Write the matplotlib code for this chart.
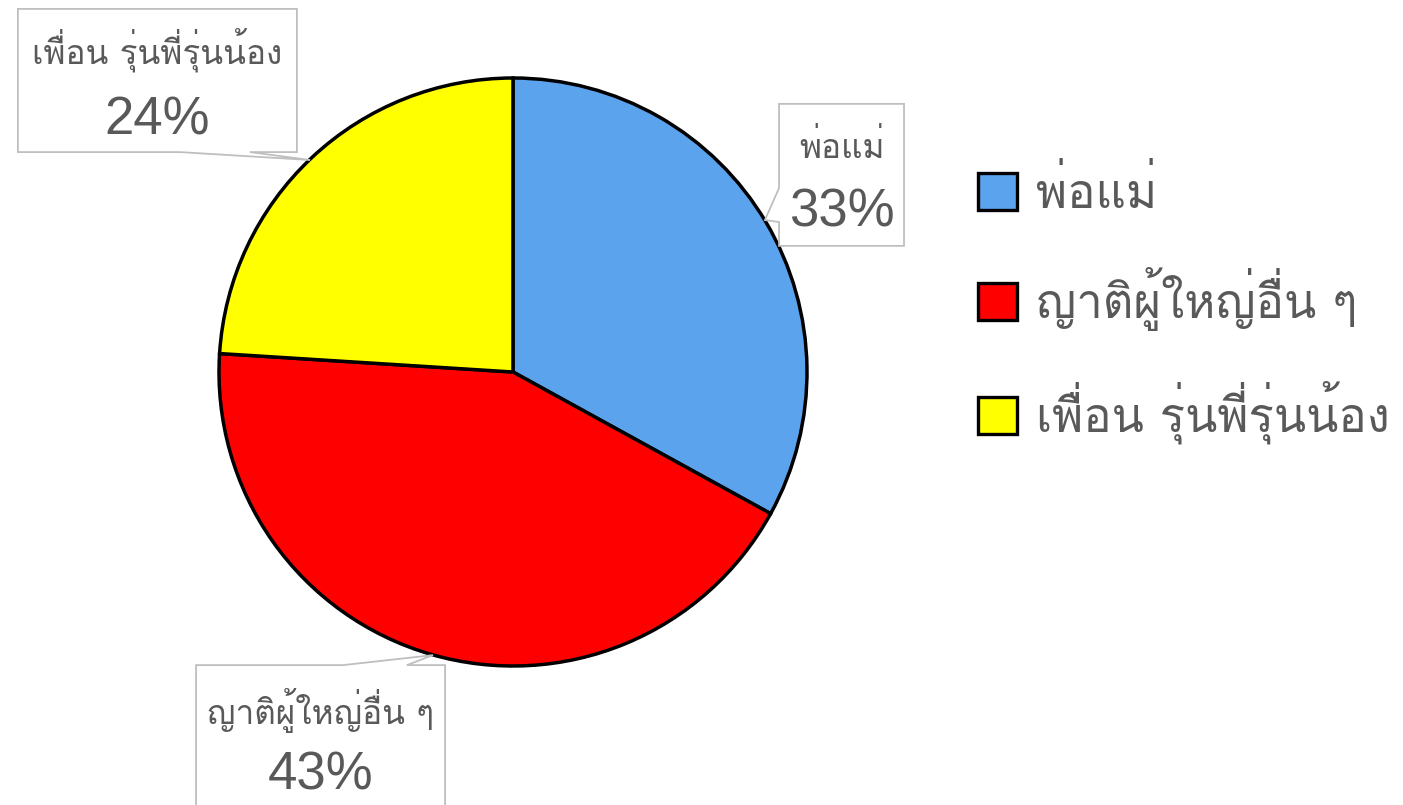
import matplotlib
matplotlib.use('Agg')
import matplotlib.pyplot as plt
from matplotlib.patches import Polygon, Patch

# data
categories = ['พ่อแม่', 'ญาติผู้ใหญ่อื่น ๆ', 'เพื่อน รุ่นพี่รุ่นน้อง']
shares = [33, 43, 24]
colors = ['#5BA3EC', '#FF0000', '#FFFF00']

THAI = ['Loma', 'FreeSerif', 'DejaVu Sans']
NUM = ['Liberation Sans', 'DejaVu Sans']
GREY = '#595959'
BOX = '#BFBFBF'

fig = plt.figure(figsize=(14.03, 8.05), dpi=100)
ax = fig.add_axes([0, 0, 1, 1])
# pie centre at about (513, 372) px, radius about 294 px
R = 294.0
xlim = (-513 / R, (1403 - 513) / R)
ylim = ((372 - 805) / R, 372 / R)

ax.pie(shares, colors=colors, startangle=90, counterclock=False,
       radius=1.0, center=(0, 0),
       wedgeprops=dict(edgecolor='black', linewidth=2.5))
ax.set_xlim(*xlim)
ax.set_ylim(*ylim)
ax.set_aspect('equal')
ax.axis('off')


# callout box with a small pointer towards the slice
def callout(x0, x1, y0, y1, edge, b0, b1, tip):
    if edge == 'bottom':
        pts = [(x0, y1), (x1, y1), (x1, y0), (b1, y0), tip, (b0, y0), (x0, y0)]
    elif edge == 'left':
        pts = [(x0, y1), (x1, y1), (x1, y0), (x0, y0), (x0, b1), tip, (x0, b0)]
    else:  # top
        pts = [(x0, y1), (b0, y1), tip, (b1, y1), (x1, y1), (x1, y0), (x0, y0)]
    ax.add_patch(Polygon(pts, closed=True, facecolor='white', edgecolor=BOX,
                         linewidth=1.3, zorder=5))


boxes = [
    # x0, x1, bottom, top, pointer edge, base0, base1, tip, name y, pct y
    (0.905, 1.330, 0.429, 0.912, 'left', 0.626, 0.510, (0.857, 0.517), 0.762, 0.541),
    (-1.078, -0.231, -1.60, -0.997, 'top', -0.578, -0.361, (-0.272, -0.963), -1.150, -1.371),
    (-1.684, -0.735, 0.748, 1.235, 'bottom', -1.133, -0.895, (-0.690, 0.721), 1.095, 0.857),
]

for (x0, x1, y0, y1, edge, b0, b1, tip, ny, py), name, s in zip(boxes, categories, shares):
    callout(x0, x1, y0, y1, edge, b0, b1, tip)
    cx = (x0 + x1) / 2
    ax.text(cx, ny, name, ha='center', va='center', fontsize=24,
            color=GREY, family=THAI, zorder=6)
    ax.text(cx, py, f'{s}%', ha='center', va='center', fontsize=38,
            color=GREY, family=NUM, zorder=6)

handles = [Patch(facecolor=c, edgecolor='black', linewidth=2.4) for c in colors]
leg = ax.legend(handles, categories, loc='center left',
                bbox_to_anchor=(978 / 1403, 1 - 306 / 805), frameon=False,
                prop=dict(family=THAI, size=34), labelcolor=GREY,
                handlelength=0.82, handleheight=0.82, handletextpad=0.4,
                labelspacing=1.05, borderaxespad=0, borderpad=0)

fig.savefig('out.png', dpi=100)
